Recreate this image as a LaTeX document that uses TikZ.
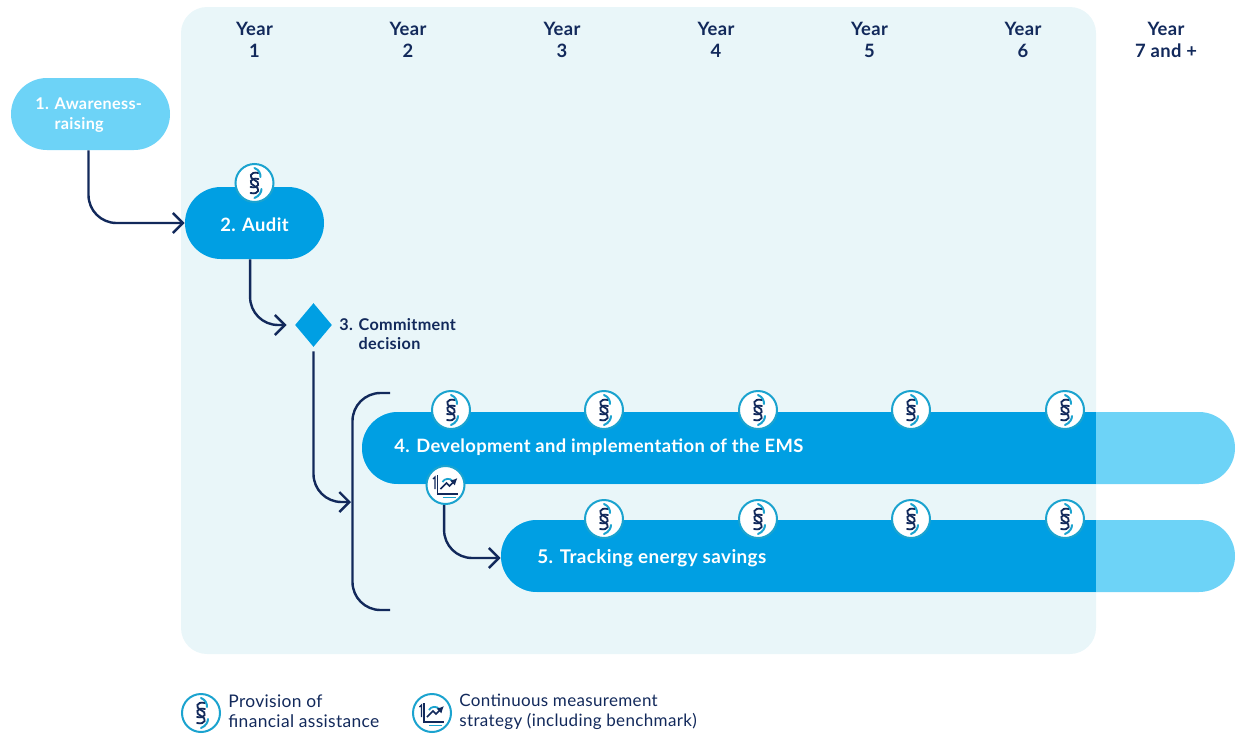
\documentclass[tikz,border=0pt]{standalone}
\usepackage{fontspec}
\setmainfont{Lato}[LetterSpace=2]
\usetikzlibrary{arrows.meta,shapes.geometric,shapes.misc}
\definecolor{panelblue}{HTML}{E9F6F9}
\definecolor{barblue}{HTML}{009FE3}
\definecolor{paleblue}{HTML}{6DD3F7}
\definecolor{inkblue}{HTML}{12295B}
\definecolor{ringblue}{HTML}{1BA3CF}
\tikzset{
	flowline/.style={draw=inkblue,line width=1.2pt,rounded corners=14pt},
	flowarrow/.style={flowline,-{Straight Barb[length=5pt,width=10pt,line width=1.2pt]}},
	pill/.style={rounded rectangle,minimum height=36pt,inner sep=0pt,fill=#1},
	twotone/.style={rounded rectangle,minimum height=36pt,inner sep=0pt,fill=paleblue,
		path picture={\fill [barblue] (path picture bounding box.south west) rectangle (split |- path picture bounding box.north);}},
	steptext/.style={text=white,font=\bfseries\fontsize{9.2}{10}\selectfont,inner sep=0pt},
	smalltext/.style={steptext,font=\bfseries\fontsize{8.1}{9.6}\selectfont,align=left,anchor=west},
	yeartext/.style={text=inkblue,font=\bfseries\fontsize{9.2}{11}\selectfont,align=center,inner sep=0pt},
	legendtext/.style={text=inkblue,font=\fontsize{8.7}{10}\selectfont,align=left,anchor=west,inner sep=0pt},
	badge/.style={circle,draw=ringblue,line width=1pt,fill=white,minimum size=19pt,inner sep=0pt},
	pics/finmark/.style={code={
		\foreach \d in {-3,3}
			\draw [inkblue,line width=.9pt,line cap=round] (4,-7+\d) .. controls (-5,-9+\d) and (-6,-2+\d) .. (0,\d) .. controls (6,2+\d) and (5,9+\d) .. (-4,7+\d);
		\draw [ringblue,line width=1pt,line cap=round] (0,-15) .. controls (5,-13) and (6,-9) .. (6,-6);
		\draw [ringblue,line width=1pt,line cap=round] (0,15) .. controls (5,13) and (7,9) .. (7,6);
	}},
	pics/chartmark/.style={code={
		\draw [inkblue,line width=.8pt] (-8,-10) -- (-8,9) -- (12,9);
		\draw [ringblue,line width=.8pt] (-3,12.5) -- (10,12.5);
		\draw [ringblue,line width=.9pt] (-3,-3) .. controls (-1,-7) and (5,-7) .. (7,-4);
		\draw [inkblue,line width=.8pt,-{Latex[length=3.5pt,width=3.5pt]}] (-5,4) -- (1,-2) -- (4,1) -- (12,-7);
		\draw [inkblue,line width=.6pt] (-12.5,-6) -- (-10.5,-8) -- (-10.5,4);
	}},
}
\begin{document}
\begin{tikzpicture}[x=.5pt,y=-.5pt]
	\useasboundingbox (0,0) rectangle (1238,734);
	\coordinate (split) at (1096,0);
	% background panel for the six years
	\node (panel) [fill=panelblue,rounded corners=13pt,minimum width=457.5pt,minimum height=323.5pt,inner sep=0pt] at (638.5,330.5) {};
	% years
	\node (y1) [yeartext] at (254.5,39.5) {Year\\1};
	\node (y2) [yeartext] at (408,39.5) {Year\\2};
	\node (y3) [yeartext] at (562,39.5) {Year\\3};
	\node (y4) [yeartext] at (716,39.5) {Year\\4};
	\node (y5) [yeartext] at (869.5,39.5) {Year\\5};
	\node (y6) [yeartext] at (1023,39.5) {Year\\6};
	\node (y7) [yeartext] at (1166,39.5) {Year\\7 and +};
	% steps
	\node (aware) [pill=paleblue,minimum width=79.5pt] at (90.5,114) {};
	\node (awaretext) [smalltext] at (35,115) {1. Awareness-\\\hphantom{1. }raising};
	\node (audit) [pill=barblue,minimum width=69.5pt] at (254.5,223) {};
	\node (audittext) [steptext] at (254.5,225) {2. Audit};
	\node (commit) [diamond,aspect=.84,fill=barblue,minimum width=18.5pt,minimum height=22pt,inner sep=0pt] at (313.5,325) {};
	\node (committext) [smalltext,text=inkblue] at (339,334) {3. Commitment\\\hphantom{3. }decision};
	\node (ems) [twotone,minimum width=436.5pt] at (798.5,448) {};
	\node (emstext) [steptext,anchor=west] at (394,447) {4. Development and implementation of the EMS};
	\node (track) [twotone,minimum width=367pt] at (868,556) {};
	\node (tracktext) [steptext,font=\bfseries\fontsize{9.45}{10}\selectfont,anchor=west] at (537,558) {5. Tracking energy savings};
	% bracket
	\coordinate (brtop) at (390,393);
	\coordinate (brbot) at (390,610);
	\coordinate (brmid) at (351,502);
	\draw [flowline] (brtop) -- (352.5,393) -- (352.5,610) -- (brbot);
	% badges
	\node (fin0) [badge] at (254.5,183) {};
	\node (chart) [badge] at (445.5,485) {};
	\foreach \x/\n in {451/1,604/2,758/3,911/4,1065/5}
		\node (ems\n) [badge] at (\x,410) {};
	\foreach \x/\n in {604/2,758/3,911/4,1065/5}
		\node (track\n) [badge] at (\x,519) {};
	\foreach \p in {fin0,ems1,ems2,ems3,ems4,ems5,track2,track3,track4,track5}
		\pic at (\p) {finmark};
	\pic at (chart) {chartmark};
	% connectors
	\draw [flowarrow] ([xshift=-1pt]aware.south) |- (audit.west);
	\draw [flowarrow,shorten >=4pt] ([xshift=-2.2pt]audit.south) |- (commit.west);
	\draw [flowarrow] ([yshift=-2pt]commit.south) |- (brmid);
	\draw [flowarrow] ([xshift=-.7pt]chart.south) |- ([yshift=-1pt]track.west);
	% legend
	\node (legfin) [badge] at (201,713) {};
	\pic at (legfin) {finmark};
	\node (legfintext) [legendtext] at (228,711.5) {Provision of\\financial assistance};
	\node (legchart) [badge] at (432,713) {};
	\pic at (legchart) {chartmark};
	\node (legcharttext) [legendtext,font=\fontsize{8.5}{10}\selectfont] at (459,712) {Continuous measurement\\strategy (including benchmark)};
\end{tikzpicture}
\end{document}
